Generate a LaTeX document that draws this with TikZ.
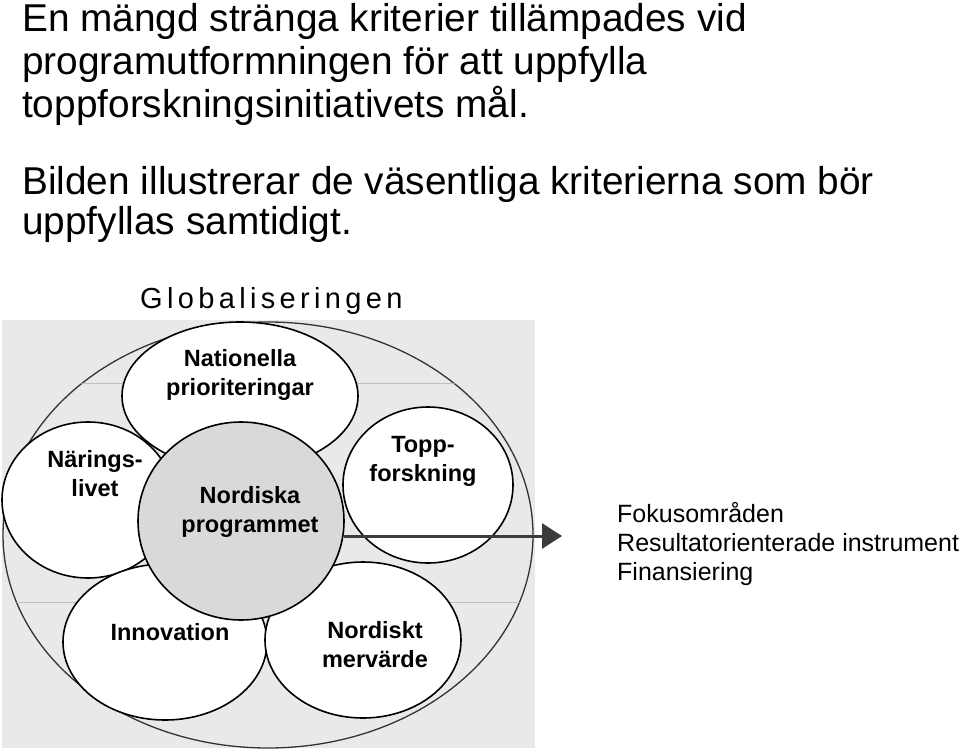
\documentclass[tikz,border=0pt]{standalone}
\usepackage{fontspec}
\setmainfont{Liberation Sans}
\newfontfamily\globfont[LetterSpace=15]{Liberation Sans}
\usetikzlibrary{shapes.geometric,arrows.meta}
\definecolor{bggray}{RGB}{233,233,233}
\definecolor{hubgray}{RGB}{217,217,217}
\definecolor{bandline}{RGB}{190,190,190}
\definecolor{arrowgray}{RGB}{60,60,60}

\begin{document}
\begin{tikzpicture}[x=1pt,y=-1pt,
    petal/.style={ellipse,draw=black,line width=1.6pt,fill=white,inner sep=0pt,outer sep=0pt},
    petaltext/.style={align=center,font=\bfseries\fontsize{23.5}{29}\selectfont},
    headline/.style={anchor=base west,inner sep=0pt,font=\fontsize{38.8}{43}\selectfont},
    listline/.style={anchor=base west,inner sep=0pt,font=\fontsize{25}{29}\selectfont},
    flow/.style={draw=arrowgray,line width=3pt,-{Triangle[length=20pt,width=25pt]}}]

\useasboundingbox (0,0) rectangle (960,751);

% text above the diagram
\node[headline] (head1) at (22,32) {En mängd stränga kriterier tillämpades vid};
\node[headline] (head2) at (22,75) {programutformningen för att uppfylla};
\node[headline] (head3) at (22,118) {toppforskningsinitiativets mål.};
\node[headline] (head4) at (22,195) {Bilden illustrerar de väsentliga kriterierna som bör};
\node[headline] (head5) at (22,235) {uppfyllas samtidigt.};

% background and the outer ellipse
\fill[bggray] (2,320) rectangle (535,748);
\node[ellipse,draw=black!80,line width=1.3pt,fill=bggray,inner sep=0pt,
      minimum width=530pt,minimum height=426pt] (glob) at (268,535) {};
\begin{scope}
  \clip (268,535) ellipse [x radius=265pt,y radius=213pt];
  \draw[bandline,line width=1pt] (0,383) -- (540,383);
  \draw[bandline,line width=1pt] (0,602) -- (540,602);
\end{scope}

\node[anchor=base west,inner sep=0pt,font=\globfont\fontsize{29}{32}\selectfont]
  (globlbl) at (140,308) {Globaliseringen};

% petals
\node[petal,minimum width=236pt,minimum height=148pt] (nat) at (240,396) {};
\node[petal,minimum width=170pt,minimum height=156pt] (topp) at (428,485) {};
\node[petal,minimum width=172pt,minimum height=156pt] (nar) at (88,500) {};
\node[petal,minimum width=204pt,minimum height=156pt] (inno) at (165,642) {};
\node[petal,minimum width=196pt,minimum height=156pt] (merv) at (363,640) {};
\node[petal,fill=hubgray,minimum width=206pt,minimum height=198pt] (hub) at (241,521) {};

\coordinate (tip) at (562,536);
\draw[flow] (hub.east |- tip) -- (tip);

\node[petaltext] (natlbl) at (240,375) {Nationella\\prioriteringar};
\node[petaltext] (narlbl) at (95,474) {Närings-\\livet};
\node[petaltext] (topplbl) at (423,461) {Topp-\\forskning};
\node[petaltext] (hublbl) at (250,512) {Nordiska\\programmet};
\node[petaltext] (innolbl) at (170,632) {Innovation};
\node[petaltext] (mervlbl) at (375,645) {Nordiskt\\mervärde};

% outcomes
\node[listline] (fokus) at (617,522) {Fokusområden};
\node[listline] (instr) at (617,551) {Resultatorienterade instrument};
\node[listline] (finans) at (617,580) {Finansiering};

\end{tikzpicture}
\end{document}
